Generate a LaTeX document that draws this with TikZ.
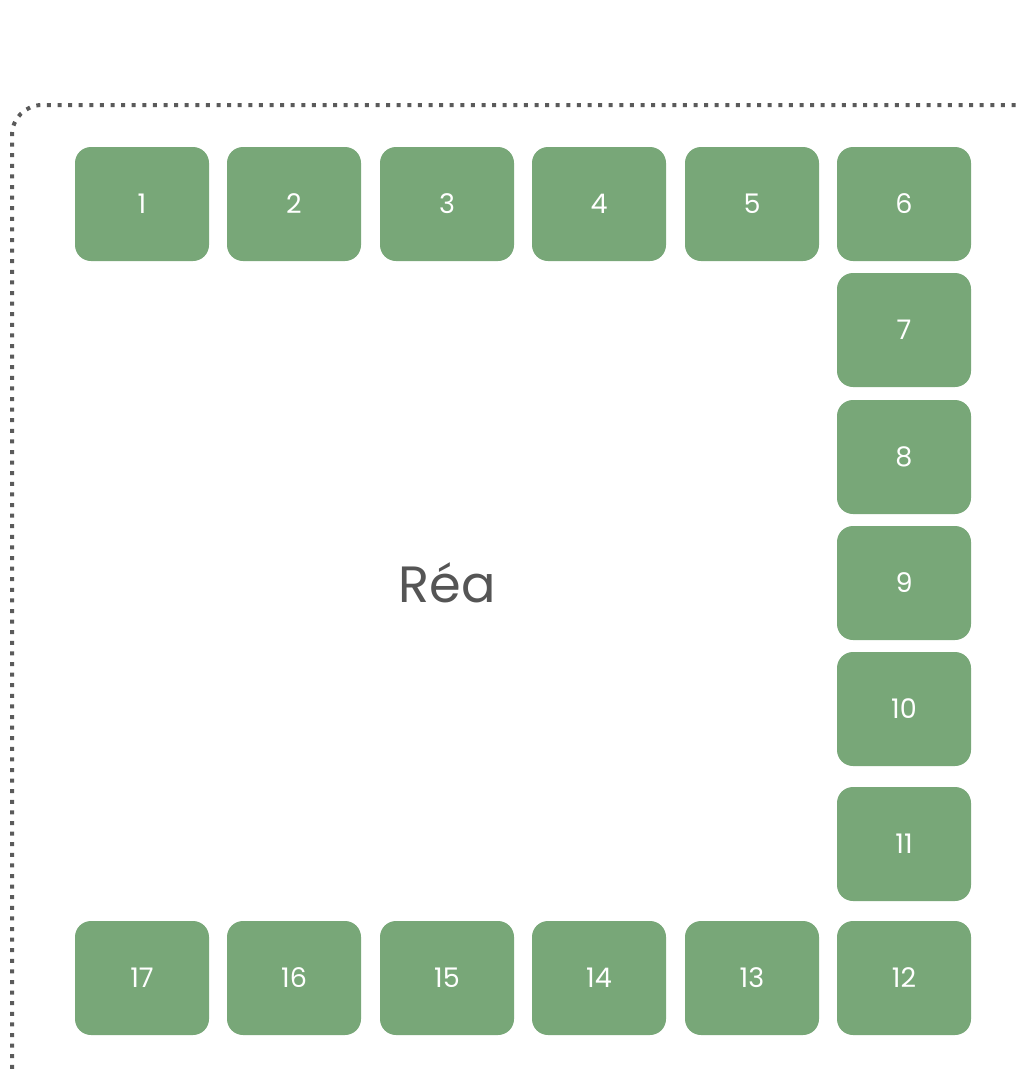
\documentclass[tikz,border=0pt]{standalone}
\usepackage{fontspec}
\setmainfont{Poppins}
\definecolor{seat}{HTML}{78A778}
\definecolor{rim}{HTML}{5A5A5A}
\definecolor{label}{HTML}{555555}
\begin{document}
\begin{tikzpicture}[x=1pt,y=-1pt,
  bed/.style={fill=seat,draw=none,rounded corners=16pt,minimum width=134pt,minimum height=114pt,
    inner sep=0pt,text=white,font=\fontsize{27}{27}\selectfont},
  wall/.style={draw=rim,line width=4pt,dash pattern=on 4pt off 6.6pt}]
\useasboundingbox (0,0) rectangle (1019,1071);
\clip (0,0) rectangle (1019,1071);
% dotted enclosure running off the right and bottom edges
\coordinate (wb) at (12,1090);
\coordinate (wr) at (1040,105);
\draw[wall] (wb) -- (12,135) arc[start angle=180,end angle=270,radius=30] -- (wr);
% top row
\node[bed] (b1) at (142,204) {1};
\node[bed] (b2) at (294,204) {2};
\node[bed] (b3) at (447,204) {3};
\node[bed] (b4) at (599,204) {4};
\node[bed] (b5) at (752,204) {5};
\node[bed] (b6) at (904,204) {6};
% right column
\node[bed] (b7) at (904,330) {7};
\node[bed] (b8) at (904,457) {8};
\node[bed] (b9) at (904,583) {9};
\node[bed] (b10) at (904,709) {10};
\node[bed] (b11) at (904,844) {11};
% bottom row
\node[bed] (b12) at (904,978) {12};
\node[bed] (b13) at (752,978) {13};
\node[bed] (b14) at (599,978) {14};
\node[bed] (b15) at (447,978) {15};
\node[bed] (b16) at (294,978) {16};
\node[bed] (b17) at (142,978) {17};
% ward name
\node[text=label,font=\fontsize{51}{51}\selectfont] (rea) at (447,583) {Réa};
\end{tikzpicture}
\end{document}
